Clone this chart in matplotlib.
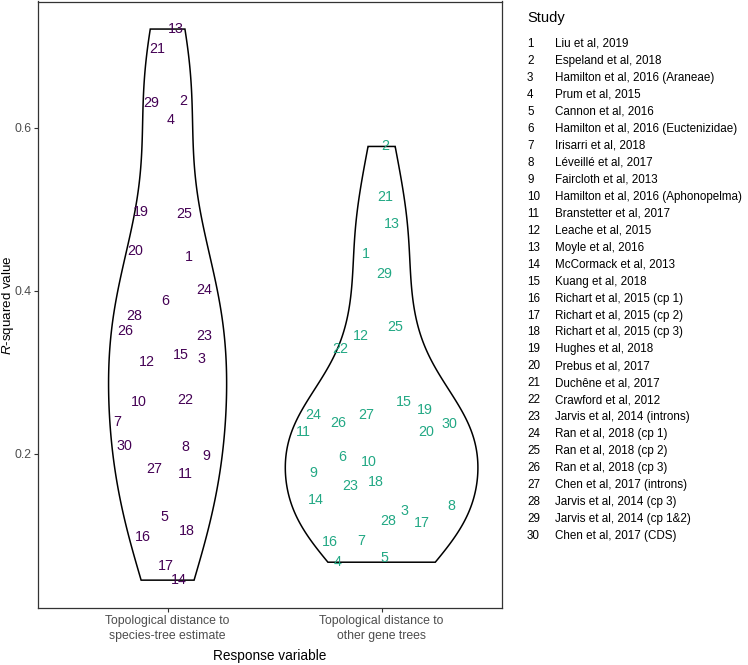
import numpy as np
import matplotlib
matplotlib.use("Agg")
import matplotlib.pyplot as plt

plt.rcParams['font.family'] = ['Liberation Sans', 'DejaVu Sans']
plt.rcParams['mathtext.fontset'] = 'custom'
plt.rcParams['mathtext.it'] = 'Liberation Sans:italic'
plt.rcParams['mathtext.rm'] = 'Liberation Sans'

# ---------------- data ----------------
groups = ["Topological distance to\nspecies-tree estimate",
          "Topological distance to\nother gene trees"]
study_ids = list(range(1, 31))
study_names = [
    "Liu et al, 2019", "Espeland et al, 2018", "Hamilton et al, 2016 (Araneae)",
    "Prum et al, 2015", "Cannon et al, 2016", "Hamilton et al, 2016 (Euctenizidae)",
    "Irisarri et al, 2018", "Léveillé et al, 2017", "Faircloth et al, 2013",
    "Hamilton et al, 2016 (Aphonopelma)", "Branstetter et al, 2017", "Leache et al, 2015",
    "Moyle et al, 2016", "McCormack et al, 2013", "Kuang et al, 2018",
    "Richart et al, 2015 (cp 1)", "Richart et al, 2015 (cp 2)", "Richart et al, 2015 (cp 3)",
    "Hughes et al, 2018", "Prebus et al, 2017", "Duchêne et al, 2017",
    "Crawford et al, 2012", "Jarvis et al, 2014 (introns)", "Ran et al, 2018 (cp 1)",
    "Ran et al, 2018 (cp 2)", "Ran et al, 2018 (cp 3)", "Chen et al, 2017 (introns)",
    "Jarvis et al, 2014 (cp 3)", "Jarvis et al, 2014 (cp 1&2)", "Chen et al, 2017 (CDS)",
]
# R-squared, response = distance to species-tree estimate (study 1..30)
r2_species = [0.441, 0.633, 0.316, 0.609, 0.122, 0.388, 0.239, 0.208, 0.197, 0.263,
              0.175, 0.312, 0.721, 0.045, 0.321, 0.098, 0.062, 0.105, 0.496, 0.449,
              0.697, 0.266, 0.345, 0.401, 0.494, 0.351, 0.181, 0.369, 0.630, 0.209]
# R-squared, response = distance to other gene trees (study 1..30)
r2_gene = [0.445, 0.577, 0.130, 0.067, 0.072, 0.196, 0.093, 0.136, 0.177, 0.190,
           0.227, 0.345, 0.482, 0.143, 0.263, 0.092, 0.115, 0.165, 0.254, 0.227,
           0.515, 0.328, 0.160, 0.247, 0.356, 0.238, 0.247, 0.118, 0.420, 0.236]
# horizontal jitter of each label (category units)
jitter_species = [0.100, 0.073, 0.156, 0.015, -0.013, -0.009, -0.236, 0.084, 0.182, -0.133,
                  0.084, -0.095, 0.039, 0.053, 0.061, -0.117, -0.009, 0.090, -0.126, -0.153,
                  -0.047, 0.082, 0.171, 0.170, 0.078, -0.196, -0.063, -0.157, -0.079, -0.203]
jitter_gene = [-0.073, 0.015, 0.109, -0.207, 0.014, -0.182, -0.097, 0.324, -0.320, -0.058,
               -0.366, -0.098, 0.050, -0.308, 0.106, -0.242, 0.187, -0.027, 0.201, 0.208,
               0.015, -0.192, -0.145, -0.322, 0.062, -0.201, -0.073, 0.029, 0.011, 0.318]
colors = ['#440154', '#22A884']

series = [r2_species, r2_gene]
jitters = [jitter_species, jitter_gene]


def density(values, n_grid=512):
    x = np.asarray(values, dtype=float)
    n = len(x)
    sd = x.std(ddof=1)
    q75, q25 = np.percentile(x, [75, 25])
    bw = 0.9 * min(sd, (q75 - q25) / 1.34) * n ** -0.2
    grid = np.linspace(x.min(), x.max(), n_grid)
    d = np.exp(-0.5 * ((grid[:, None] - x[None, :]) / bw) ** 2).sum(1) / (n * bw * np.sqrt(2 * np.pi))
    return grid, d


fig = plt.figure(figsize=(7.48, 6.65), dpi=100)
ax = fig.add_axes([37.7 / 748, 1 - 607.7 / 665, (502.3 - 37.7) / 748, (607.7 - 1.5) / 665])

dens = [density(v) for v in series]
maxd = max(d.max() for _, d in dens)
for i, (grid, d) in enumerate(dens):
    pos = i + 1
    hw = 0.45 * d / maxd
    xs = np.concatenate([pos - hw, (pos + hw)[::-1]])
    ys = np.concatenate([grid, grid[::-1]])
    ax.fill(xs, ys, facecolor='white', edgecolor='black', linewidth=1.1, zorder=2)

for i, (vals, jit) in enumerate(zip(series, jitters)):
    pos = i + 1
    for sid, v, j in zip(study_ids, vals, jit):
        ax.text(pos + j, v, str(sid), ha='center', va='center', color=colors[i],
                fontsize=10.3, zorder=3)

allv = np.concatenate([np.asarray(s) for s in series])
lo, hi = allv.min(), allv.max()
pad = 0.05 * (hi - lo)
ax.set_ylim(lo - pad, hi + pad)
ax.set_xlim(0.393, 2.564)

ax.set_xticks([1, 2])
ax.set_xticklabels(groups, fontsize=8.8, color='#4D4D4D', linespacing=1.3)
ax.set_yticks([0.2, 0.4, 0.6])
ax.set_yticklabels(['0.2', '0.4', '0.6'], fontsize=8.8, color='#4D4D4D')
ax.tick_params(axis='both', length=3.0, width=0.8, color='#333333', pad=2.5)
ax.tick_params(axis='y', pad=1.5)
for s in ax.spines.values():
    s.set_color('#333333')
    s.set_linewidth(0.9)

fig.text((37.7 + 502.3) / 2 / 748, 1 - 656 / 665, 'Response variable', ha='center', va='center',
         fontsize=9.8)
fig.text(8 / 748, 1 - 305 / 665, r'$\mathit{R}$-squared value', ha='center', va='center',
         rotation=90, fontsize=9.6)

# legend (study key)
fig.text(527 / 748, 1 - 18 / 665, 'Study', ha='left', va='center', fontsize=10.5)
for k, (sid, name) in enumerate(zip(study_ids, study_names)):
    y = 1 - (44 + k * 16.97) / 665
    fig.text(527 / 748, y, str(sid), ha='left', va='center', fontsize=8.4)
    fig.text(555 / 748, y, name, ha='left', va='center', fontsize=8.4)

fig.savefig('out.png', dpi=100)
